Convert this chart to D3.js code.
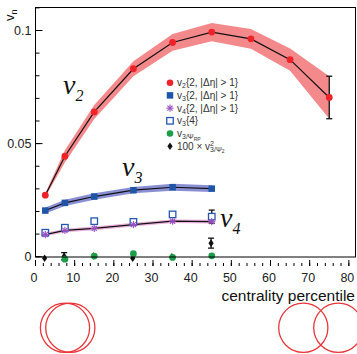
<!DOCTYPE html>
<html><head><meta charset="utf-8">
<script src="https://cdn.jsdelivr.net/npm/d3@7"></script>
<style>body{margin:0;background:#fff}svg{display:block}</style>
</head><body><svg id="c" width="357" height="354"></svg>
<script>
// ---- data ----
const xs9 = [2.5, 7.5, 15, 25, 35, 45, 55, 65, 75];
const v2 = [0.0272, 0.0444, 0.0640, 0.0831, 0.0947, 0.0993, 0.0963, 0.0871, 0.0704];
const v2Band = [0.0008, 0.0027, 0.0031, 0.0033, 0.0037, 0.0040, 0.0044, 0.0049, 0.0094];
const v2Err = [0, 0, 0, 0, 0, 0, 0, 0, 0.0094];
const xs6 = [2.5, 7.5, 15, 25, 35, 45];
const v3 = [0.0204, 0.0238, 0.0266, 0.0294, 0.0307, 0.0301];
const v3Band = [0.0013, 0.0014, 0.0014, 0.0014, 0.0015, 0.0015];
const v4 = [0.0098, 0.0116, 0.0125, 0.0142, 0.0157, 0.0155];
const v4Band = [0.0008, 0.0008, 0.0008, 0.0008, 0.0008, 0.0008];
const v3c4 = [0.0106, 0.0128, 0.0157, 0.0154, 0.0187, 0.0177];
const v3c4Err = [0, 0, 0, 0, 0, 0.0029];
const xsRP = [7.5, 15, 25, 35, 45];
const v3RP = [-0.0011, 0.0003, 0.0013, -0.0003, 0.0004];
const xsPsi2 = [2.5, 7.5, 15, 25, 35, 45];
const v3Psi2 = [-0.0007, 0.0002, 0.0003, -0.0007, 0.0000, 0.0060];
const v3Psi2Err = [0, 0.0016, 0, 0, 0, 0.0022];
const xTicks = [0, 10, 20, 30, 40, 50, 60, 70, 80];
const yTicks = [0, 0.05, 0.1];
const yTickLabels = ["0", "0.05", "0.1"];

const svg = d3.select("#c");
const L = 35.5, R = 355.5, T = 7.5, B = 257;
const x = d3.scaleLinear().domain([0, 81.7]).range([L, R]);
const y = d3.scaleLinear().domain([-0.00013, 0.11017]).range([B, T]);

const font = "'Liberation Sans', Arial, sans-serif";

// bands
function band(xsArr, vals, half, fill) {
  const data = xsArr.map((d, i) => ({x: d, y: vals[i], h: half[i]}));
  svg.append("path").datum(data)
    .attr("d", d3.area().x(d => x(d.x)).y0(d => y(d.y - d.h)).y1(d => y(d.y + d.h)))
    .attr("fill", fill).attr("stroke", "none");
  svg.append("path").datum(data)
    .attr("d", d3.line().x(d => x(d.x)).y(d => y(d.y)))
    .attr("fill", "none").attr("stroke", "#111").attr("stroke-width", 1.2);
}
band(xs9, v2, v2Band, "#f4898c");
band(xs6, v3, v3Band, "#8a8fd4");
band(xs6, v4, v4Band, "#eab0dc");

// error bars
function errs(xsArr, vals, e, color, dx) {
  xsArr.forEach((d, i) => {
    if (!e[i]) return;
    const cx = x(d) + (dx || 0);
    const g = svg.append("g").attr("stroke", color).attr("stroke-width", 1.3);
    g.append("line").attr("x1", cx).attr("x2", cx).attr("y1", y(vals[i] - e[i])).attr("y2", y(vals[i] + e[i]));
    g.append("line").attr("x1", cx - 3).attr("x2", cx + 3).attr("y1", y(vals[i] - e[i])).attr("y2", y(vals[i] - e[i]));
    g.append("line").attr("x1", cx - 3).attr("x2", cx + 3).attr("y1", y(vals[i] + e[i])).attr("y2", y(vals[i] + e[i]));
  });
}
errs(xs9, v2, v2Err, "#111");
errs(xs6, v3c4, v3c4Err, "#111");
errs(xsPsi2, v3Psi2, v3Psi2Err, "#111", -0.7);

// marker drawing helpers
function circle(g, cx, cy, r, fill) {
  g.append("circle").attr("cx", cx).attr("cy", cy).attr("r", r).attr("fill", fill);
}
function square(g, cx, cy, s, fill, stroke) {
  g.append("rect").attr("x", cx - s / 2).attr("y", cy - s / 2).attr("width", s).attr("height", s)
    .attr("fill", fill).attr("stroke", stroke || "none").attr("stroke-width", stroke ? 1.3 : 0);
}
function star(g, cx, cy, s, color) {
  const gg = g.append("g").attr("stroke", color).attr("stroke-width", 1.1);
  for (let k = 0; k < 4; k++) {
    const a = k * Math.PI / 4;
    gg.append("line").attr("x1", cx - s * Math.cos(a)).attr("y1", cy - s * Math.sin(a))
      .attr("x2", cx + s * Math.cos(a)).attr("y2", cy + s * Math.sin(a));
  }
}
function diamond(g, cx, cy, w, h, fill) {
  g.append("path").attr("d", `M${cx},${cy - h}L${cx + w},${cy}L${cx},${cy + h}L${cx - w},${cy}Z`).attr("fill", fill);
}

const m = svg.append("g");
xsPsi2.forEach((d, i) => diamond(m, x(d) - 0.7, y(v3Psi2[i]), 2.6, 3.8, "#111"));
xsRP.forEach((d, i) => circle(m, x(d), y(v3RP[i]), 3.4, "#1f9e4a"));
xs6.forEach((d, i) => square(m, x(d), y(v3c4[i]), 6.5, "#fff", "#2458b0"));
xs6.forEach((d, i) => star(m, x(d), y(v4[i]), 3.6, "#9b4fc0"));
xs6.forEach((d, i) => square(m, x(d), y(v3[i]), 6.5, "#1f55a8"));
xs9.forEach((d, i) => circle(m, x(d), y(v2[i]), 3.4, "#ee2229"));

// frame
svg.append("rect").attr("x", L).attr("y", T).attr("width", R - L).attr("height", B - T)
  .attr("fill", "none").attr("stroke", "#000").attr("stroke-width", 1);

// y ticks (inward)
d3.range(0, 0.1101, 0.01).forEach(v => {
  svg.append("line").attr("x1", L).attr("x2", L + 4).attr("y1", y(v)).attr("y2", y(v)).attr("stroke", "#000");
});
yTicks.forEach((v, i) => {
  svg.append("line").attr("x1", L).attr("x2", L + 7).attr("y1", y(v)).attr("y2", y(v)).attr("stroke", "#000");
  svg.append("text").attr("x", L - 4).attr("y", y(v)).attr("dy", "0.35em").attr("text-anchor", "end")
    .attr("font-family", font).attr("font-size", 12.5).attr("fill", "#222").text(yTickLabels[i]);
});

// x ticks (hanging below frame, pointing up)
const xBase = 266;
d3.range(0, 81, 2).forEach(v => {
  svg.append("line").attr("x1", x(v)).attr("x2", x(v)).attr("y1", xBase).attr("y2", xBase - 3).attr("stroke", "#000");
});
xTicks.forEach(v => {
  svg.append("line").attr("x1", x(v)).attr("x2", x(v)).attr("y1", xBase).attr("y2", xBase - 6).attr("stroke", "#000");
  svg.append("text").attr("x", x(v) - 1.5).attr("y", 281.5).attr("text-anchor", "middle")
    .attr("font-family", font).attr("font-size", 12.5).attr("fill", "#222").text(v);
});

// axis titles
svg.append("text").attr("x", 355).attr("y", 301).attr("text-anchor", "end")
  .attr("font-family", font).attr("font-size", 15.5).attr("fill", "#111").text("centrality percentile");
const yt = svg.append("text").attr("transform", "translate(14,21) rotate(-90)")
  .attr("font-family", font).attr("font-size", 13).attr("fill", "#111");
yt.append("tspan").text("v");
yt.append("tspan").attr("dy", 3).attr("font-size", 9).text("n");

// big labels
function bigLabel(px, py, sub) {
  const t = svg.append("text").attr("x", px).attr("y", py)
    .attr("font-family", "'Liberation Serif', 'Times New Roman', serif").attr("font-style", "italic")
    .attr("font-size", 28).attr("fill", "#111");
  t.append("tspan").text("v");
  t.append("tspan").attr("dy", 7).attr("font-size", 16).text(sub);
}
bigLabel(63, 94, "2");
bigLabel(122, 176, "3");
bigLabel(220, 227, "4");

// legend
const lg = svg.append("g");
const lx = 170, ly0 = 82.7, ldy = 12.7;
function ltext(i) {
  return lg.append("text").attr("x", lx + 7).attr("y", ly0 + i * ldy).attr("dy", "0.35em")
    .attr("font-family", font).attr("font-size", 10).attr("fill", "#333");
}
circle(lg, lx, ly0, 3.3, "#ee2229");
square(lg, lx, ly0 + ldy, 6.5, "#1f55a8");
star(lg, lx, ly0 + 2 * ldy, 3.6, "#9b4fc0");
square(lg, lx, ly0 + 3 * ldy, 6.5, "#fff", "#2458b0");
circle(lg, lx, ly0 + 4 * ldy, 3.3, "#1f9e4a");
diamond(lg, lx, ly0 + 5 * ldy, 2.6, 3.8, "#111");
["2", "3", "4"].forEach((s, i) => {
  const t = ltext(i);
  t.append("tspan").text("v");
  t.append("tspan").attr("font-size", 7).attr("dy", 2).text(s);
  t.append("tspan").attr("dy", -2).text("{2, |\u0394\u03b7| > 1}");
});
{
  const t = ltext(3);
  t.append("tspan").text("v");
  t.append("tspan").attr("font-size", 7).attr("dy", 2).text("3");
  t.append("tspan").attr("dy", -2).text("{4}");
}
{
  const t = ltext(4);
  t.append("tspan").text("v");
  t.append("tspan").attr("font-size", 7).attr("dy", 2).text("3/\u03a8");
  t.append("tspan").attr("font-size", 5).attr("dy", 1.5).text("RP");
}
{
  const t = ltext(5);
  t.append("tspan").text("100 \u00d7 v");
  t.append("tspan").attr("font-size", 7).attr("dy", -4).text("2");
  t.append("tspan").attr("font-size", 7).attr("dx", -3.9).attr("dy", 6).text("3/\u03a8");
  t.append("tspan").attr("font-size", 5).attr("dy", 1.5).text("2");
}

// collision geometry circles
const circX = [65, 70.3, 303.3, 338.3];
const circY = [327.8, 327.8, 327.8, 327.8];
circX.forEach((cx, i) => {
  svg.append("circle").attr("cx", cx).attr("cy", circY[i]).attr("r", 24.6)
    .attr("fill", "none").attr("stroke", "#e8363a").attr("stroke-width", 1.3);
});
</script></body></html>
